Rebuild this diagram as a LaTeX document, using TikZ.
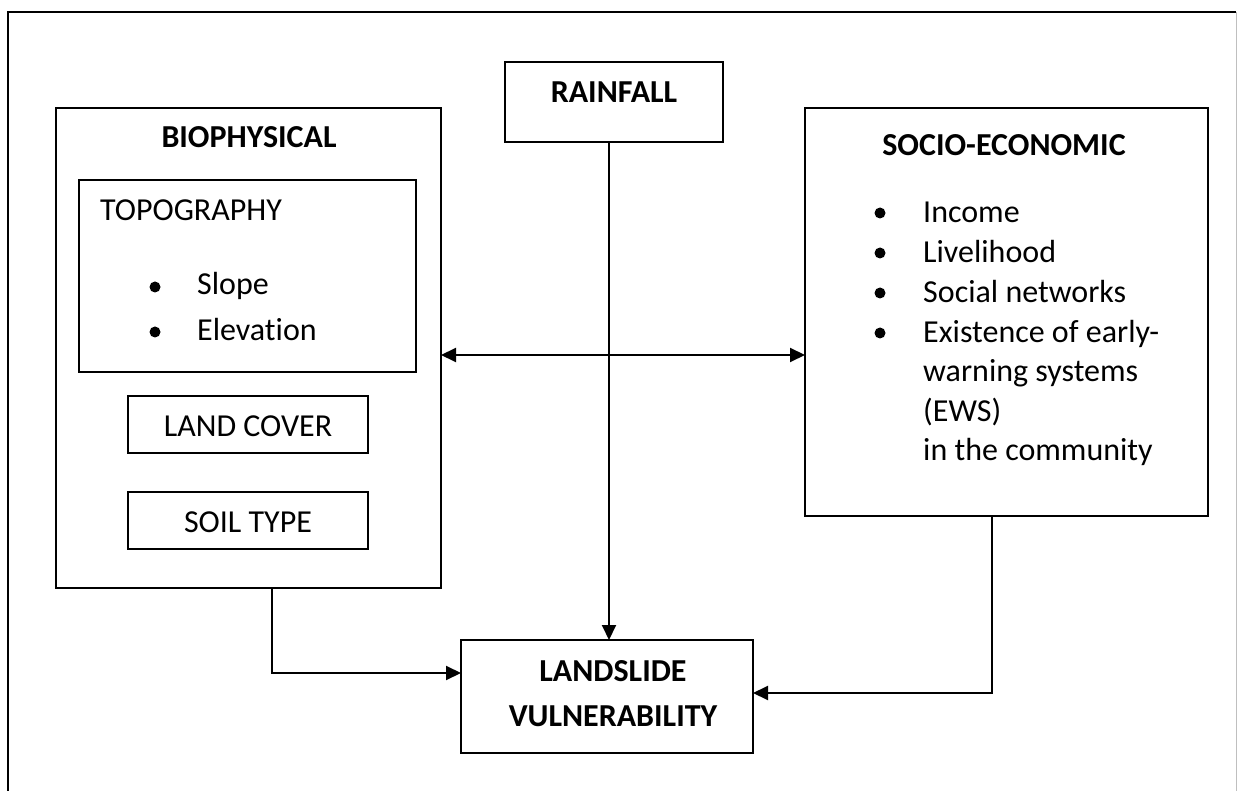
\documentclass[tikz,border=0pt]{standalone}
\usepackage{fontspec}
\setmainfont{Carlito}[Ligatures=NoCommon]
\usetikzlibrary{arrows.meta}
\begin{document}
\begin{tikzpicture}[x=1pt,y=-1pt,
  box/.style={draw,line width=1.8pt,outer sep=0pt,inner sep=0pt,anchor=north west},
  lbl/.style={inner sep=0pt,anchor=base,font=\fontsize{32}{38}\selectfont},
  lblw/.style={inner sep=0pt,anchor=base west,font=\fontsize{32}{38}\selectfont},
  ttl/.style={lbl,font=\fontsize{32}{38}\selectfont\bfseries},
  bul/.style={circle,fill,inner sep=0pt,minimum size=11pt},
  conn/.style={line width=2pt},
  arr/.style={conn,-{Triangle[length=15pt,width=14pt]}},
  dar/.style={conn,{Triangle[length=15pt,width=14pt]}-{Triangle[length=15pt,width=14pt]}}]
\useasboundingbox (0,0) rectangle (1237,791);
% outer frame
\draw[line width=1.8pt] (8,791) -- (8,12) -- (1236,12);
\draw[line width=1pt,black!25] (1236,12) -- (1236,791);
% boxes
\node[box,minimum width=385pt,minimum height=480pt] (bio) at (56,108) {};
\node[box,minimum width=337pt,minimum height=192pt] (topo) at (79,180) {};
\node[box,minimum width=240pt,minimum height=57pt] (lc) at (128,396) {};
\node[box,minimum width=240pt,minimum height=57pt] (soil) at (128,492) {};
\node[box,minimum width=218pt,minimum height=80pt] (rain) at (505,62) {};
\node[box,minimum width=403pt,minimum height=408pt] (se) at (805,108) {};
\node[box,minimum width=292pt,minimum height=113pt] (land) at (461,640) {};
% titles
\node[ttl] (biot) at (249,148) {BIOPHYSICAL};
\node[ttl] (raint) at (614,103) {RAINFALL};
\node[ttl] (set) at (1004,156) {SOCIO-ECONOMIC};
\node[ttl] (landt1) at (613,681) {LANDSLIDE};
\node[ttl] (landt2) at (613,726) {VULNERABILITY};
% biophysical contents
\node[lblw] (topot) at (100,221) {TOPOGRAPHY};
\node[bul] (b1) at (155,287) {};
\node[lblw] (slope) at (197,295) {Slope};
\node[bul] (b2) at (155,332) {};
\node[lblw] (elev) at (197,341) {Elevation};
\node[lbl] (lct) at (248,436) {LAND COVER};
\node[lbl] (soilt) at (248,532) {SOIL TYPE};
% socio-economic contents
\node[bul] (s1) at (880,213) {};
\node[lblw] (inc) at (923,223) {Income};
\node[bul] (s2) at (880,253) {};
\node[lblw] (liv) at (923,263) {Livelihood};
\node[bul] (s3) at (880,293) {};
\node[lblw] (soc) at (923,303) {Social networks};
\node[bul] (s4) at (880,333) {};
\node[lblw] (ex1) at (923,343) {Existence of early-};
\node[lblw] (ex2) at (923,382) {warning systems};
\node[lblw] (ex3) at (923,421) {(EWS)};
\node[lblw] (ex4) at (923,460) {in the community};
% helper coordinates
\coordinate (rx) at (609,0);
\coordinate (my) at (0,355);
\coordinate (bx) at (272,0);
\coordinate (by) at (0,673);
\coordinate (sx) at (992,0);
\coordinate (sy) at (0,693);
% connectors
\draw[arr] (rain.south -| rx) -- (land.north -| rx);
\draw[dar] (bio.east |- my) -- (se.west |- my);
\draw[arr] (bio.south -| bx) |- (land.west |- by);
\draw[arr] (se.south -| sx) |- (land.east |- sy);
\end{tikzpicture}
\end{document}
